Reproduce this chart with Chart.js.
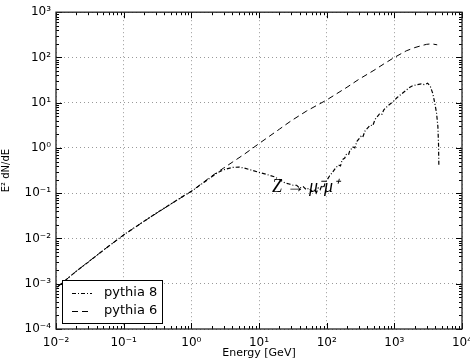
<!DOCTYPE html>
<html>
<head>
<meta charset="utf-8">
<script src="https://cdn.jsdelivr.net/npm/chart.js@4/dist/chart.umd.min.js"></script>
<style>
  html, body { margin: 0; padding: 0; background: #fff; }
</style>
</head>
<body>
<canvas id="specChart" width="470" height="360"></canvas>
<script>
// pythia 8 (dash-dot) spectrum, E [GeV] vs E^2 dN/dE
var p8Energy = [0.0105, 0.02, 0.03, 0.05, 0.07, 0.1, 0.15, 0.2, 0.3, 0.5, 0.7, 1.0, 1.5, 2, 2.5, 3, 4, 5, 6, 8, 10, 13, 17, 20, 24, 28, 32, 36, 40, 45, 50, 55, 60, 65, 70, 75, 80, 85, 90, 95, 100, 110, 120, 135, 150, 160, 170, 185, 195, 210, 220, 245, 260, 280, 320, 340, 370, 440, 480, 520, 600, 650, 700, 800, 950, 1100, 1300, 1500, 1700, 1900, 2200, 2500, 2800, 3100, 3400, 3700, 3950, 4200, 4400, 4500, 4550];
var p8Value = [8.5e-4, 1.9e-3, 3.0e-3, 5.5e-3, 8e-3, 0.012, 0.018, 0.024, 0.036, 0.058, 0.08, 0.11, 0.17, 0.23, 0.29, 0.33, 0.37, 0.38, 0.36, 0.32, 0.29, 0.26, 0.23, 0.2, 0.17, 0.16, 0.15, 0.15, 0.13, 0.14, 0.12, 0.13, 0.11, 0.12, 0.10, 0.13, 0.12, 0.15, 0.13, 0.17, 0.19, 0.24, 0.28, 0.36, 0.42, 0.4, 0.55, 0.6, 0.72, 0.7, 0.88, 1.05, 1.0, 1.4, 1.8, 1.7, 2.4, 3.2, 3.1, 4.3, 5.6, 5.4, 7, 8.5, 10.5, 13, 16, 19, 22, 24, 25, 26, 25, 27, 23, 16, 10, 6, 3, 1.2, 0.4];

// pythia 6 (dashed) spectrum
var p6Energy = [0.0105, 0.02, 0.05, 0.1, 0.2, 0.5, 1, 2, 3, 4, 6, 10, 20, 30, 50, 100, 200, 300, 500, 700, 1000, 1500, 2000, 2500, 3000, 3550, 4300];
var p6Value = [8.5e-4, 1.9e-3, 5.5e-3, 0.012, 0.024, 0.058, 0.11, 0.24, 0.36, 0.48, 0.72, 1.25, 2.6, 4.0, 6.5, 11.5, 22, 33, 52, 72, 100, 140, 165, 182, 195, 200, 190];

var seriesNames = ['pythia 8', 'pythia 6'];

var xTicks = [1e-2, 1e-1, 1e0, 1e1, 1e2, 1e3, 1e4];
var xTickLabels = ['10\u207B\u00B2', '10\u207B\u00B9', '10\u2070', '10\u00B9', '10\u00B2', '10\u00B3', '10\u2074'];
var yTicks = [1e-4, 1e-3, 1e-2, 1e-1, 1e0, 1e1, 1e2, 1e3];
var yTickLabels = ['10\u207B\u2074', '10\u207B\u00B3', '10\u207B\u00B2', '10\u207B\u00B9', '10\u2070', '10\u00B9', '10\u00B2', '10\u00B3'];

var annotationText = 'Z \u2192 \u03BC\u207B\u03BC\u207A';
var annotationAt = { x: 15.5, y: 0.105 };

function toPoints(xs, ys) {
    return xs.map(function(x, i) { return { x: x, y: ys[i] }; });
}

// inward tick marks + frame, like the matplotlib original
var frameTicks = {
    id: 'frameTicks',
    afterDatasetsDraw: function(chart) {
        var ctx = chart.ctx, a = chart.chartArea;
        var xs = chart.scales.x, ys = chart.scales.y;
        ctx.save();
        ctx.strokeStyle = '#000';
        ctx.lineWidth = 1;
        function marks(vals, len, scale, horiz) {
            vals.forEach(function(v) {
                var p = Math.round(scale.getPixelForValue(v)) + 0.5;
                ctx.beginPath();
                if (horiz) {
                    ctx.moveTo(p, a.bottom); ctx.lineTo(p, a.bottom - len);
                    ctx.moveTo(p, a.top); ctx.lineTo(p, a.top + len);
                } else {
                    ctx.moveTo(a.left, p); ctx.lineTo(a.left + len, p);
                    ctx.moveTo(a.right, p); ctx.lineTo(a.right - len, p);
                }
                ctx.stroke();
            });
        }
        function minors(majors) {
            var out = [];
            for (var i = 0; i < majors.length - 1; i++) {
                for (var m = 2; m < 10; m++) out.push(majors[i] * m);
            }
            return out;
        }
        marks(xTicks, 6, xs, true);
        marks(minors(xTicks), 3, xs, true);
        marks(yTicks, 6, ys, false);
        marks(minors(yTicks), 3, ys, false);
        ctx.strokeStyle = '#222';
        ctx.lineWidth = 1.3;
        ctx.strokeRect(a.left, a.top, a.right - a.left, a.bottom - a.top);

        // Z -> mu mu label
        ctx.fillStyle = '#000';
        ctx.font = 'italic 18px "Liberation Serif"';
        ctx.textBaseline = 'alphabetic';
        ctx.fillText(annotationText, xs.getPixelForValue(annotationAt.x), ys.getPixelForValue(annotationAt.y));

        // legend box
        var bx = a.left + 6, by = a.bottom - 49, bw = 100, bh = 43;
        ctx.fillStyle = '#fff';
        ctx.fillRect(bx, by, bw, bh);
        ctx.strokeStyle = '#000';
        ctx.lineWidth = 1;
        ctx.strokeRect(bx + 0.5, by + 0.5, bw, bh);
        ctx.font = '13px "DejaVu Sans"';
        ctx.textBaseline = 'middle';
        chart.data.datasets.forEach(function(ds, i) {
            var ly = by + 13 + i * 18;
            ctx.beginPath();
            ctx.setLineDash(ds.borderDash);
            ctx.moveTo(bx + 10, ly + 0.5);
            ctx.lineTo(bx + 30, ly + 0.5);
            ctx.stroke();
            ctx.setLineDash([]);
            ctx.fillStyle = '#000';
            ctx.fillText(ds.label, bx + 42, ly);
        });
        ctx.restore();
    }
};

var ctx1 = document.getElementById('specChart').getContext('2d');
var specChart = new Chart(ctx1, {
    type: 'line',
    data: {
        datasets: [{
            label: seriesNames[0],
            data: toPoints(p8Energy, p8Value),
            borderColor: '#000',
            borderWidth: 1.2,
            borderDash: [4, 2, 1, 2],
            pointRadius: 0,
            fill: false
        }, {
            label: seriesNames[1],
            data: toPoints(p6Energy, p6Value),
            borderColor: '#000',
            borderWidth: 1,
            borderDash: [6, 4],
            pointRadius: 0,
            fill: false
        }]
    },
    options: {
        responsive: false,
        animation: false,
        layout: { padding: { top: 12, right: 8, left: 0, bottom: 0 } },
        plugins: {
            legend: { display: false },
            tooltip: { enabled: false }
        },
        scales: {
            x: {
                type: 'logarithmic',
                min: 1e-2,
                max: 1e4,
                afterBuildTicks: function(s) { s.ticks = xTicks.map(function(v) { return { value: v }; }); },
                afterFit: function(s) { s.height = 31; s.paddingRight = 0; s.paddingLeft = 0; },
                ticks: {
                    autoSkip: false,
                    maxRotation: 0,
                    padding: 7,
                    color: '#000',
                    font: { family: 'DejaVu Sans', size: 12 },
                    callback: function(v) { return xTickLabels[xTicks.indexOf(v)]; }
                },
                grid: { color: '#999', lineWidth: 1, drawTicks: false },
                border: { display: false, dash: [1, 3] },
                title: {
                    display: true,
                    text: 'Energy [GeV]',
                    color: '#000',
                    padding: { top: 0, bottom: 0 },
                    font: { family: 'DejaVu Sans', size: 11 }
                }
            },
            y: {
                type: 'logarithmic',
                min: 1e-4,
                max: 1e3,
                afterBuildTicks: function(s) { s.ticks = yTicks.map(function(v) { return { value: v }; }); },
                afterFit: function(s) { s.width = 56; },
                ticks: {
                    autoSkip: false,
                    padding: 5,
                    color: '#000',
                    font: { family: 'DejaVu Sans', size: 12 },
                    callback: function(v) { return yTickLabels[yTicks.indexOf(v)]; }
                },
                grid: { color: '#999', lineWidth: 1, drawTicks: false },
                border: { display: false, dash: [1, 3] },
                title: {
                    display: true,
                    text: 'E\u00B2 dN/dE',
                    color: '#000',
                    padding: { top: 0, bottom: 0 },
                    font: { family: 'DejaVu Sans', size: 10 }
                }
            }
        }
    },
    plugins: [frameTicks]
});
</script>
</body>
</html>
